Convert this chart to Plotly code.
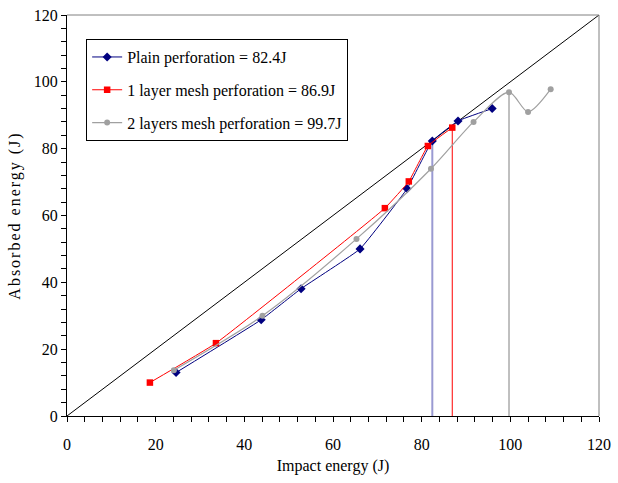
import plotly.graph_objects as go

# Data
plain_x = [24.6, 43.8, 52.8, 66.1, 76.7, 82.4, 88.2, 95.9]
plain_y = [13.0, 28.8, 38.1, 50.0, 68.0, 82.3, 88.3, 92.0]

mesh1_x = [18.7, 33.6, 71.7, 77.1, 81.4, 86.9]
mesh1_y = [10.0, 21.8, 62.2, 70.2, 80.8, 86.3]

mesh2_x = [24.1, 44.1, 65.3, 82.1, 91.7, 99.7, 104.0, 109.1]
mesh2_y = [13.7, 30.0, 53.0, 74.0, 88.0, 96.9, 91.0, 97.8]

perf_plain = 82.4
perf_mesh1 = 86.9
perf_mesh2 = 99.7

diag = [0, 120]

FONT = "Liberation Serif"

fig = go.Figure()

# y = x reference line
fig.add_trace(go.Scatter(x=diag, y=diag, mode="lines", line=dict(color="black", width=1),
                         showlegend=False, hoverinfo="skip"))

# perforation vertical lines
fig.add_trace(go.Scatter(x=[perf_plain, perf_plain], y=[0, plain_y[5]], mode="lines",
                         line=dict(color="#9a9ad2", width=2), showlegend=False))
fig.add_trace(go.Scatter(x=[perf_mesh1, perf_mesh1], y=[0, mesh1_y[5]], mode="lines",
                         line=dict(color="#ff0000", width=1), showlegend=False))
fig.add_trace(go.Scatter(x=[perf_mesh2, perf_mesh2], y=[0, mesh2_y[5]], mode="lines",
                         line=dict(color="#808080", width=1), showlegend=False))

fig.add_trace(go.Scatter(x=plain_x, y=plain_y, mode="lines+markers",
                         name="Plain perforation = 82.4J", legendgroup="a",
                         line=dict(color="#000080", width=1, shape="spline", smoothing=0.3),
                         marker=dict(symbol="diamond", size=7, color="#000080")))
fig.add_trace(go.Scatter(x=mesh1_x, y=mesh1_y, mode="lines+markers",
                         name="1 layer mesh perforation = 86.9J", legendgroup="b",
                         line=dict(color="#ff0000", width=1, shape="spline", smoothing=0.3),
                         marker=dict(symbol="square", size=6.5, color="#ff0000")))
fig.add_trace(go.Scatter(x=mesh2_x, y=mesh2_y, mode="lines+markers",
                         name="2 layers mesh perforation = 99.7J", legendgroup="c",
                         line=dict(color="#a0a0a0", width=1.2, shape="spline", smoothing=0.8),
                         marker=dict(symbol="circle", size=6, color="#a0a0a0")))

axis_common = dict(
    showgrid=False, zeroline=False, showline=True, linecolor="black", linewidth=1,
    ticks="outside", ticklen=5, tickcolor="black", tickwidth=1,
    tickfont=dict(family=FONT, size=16, color="black"),
    minor=dict(ticks="outside", ticklen=5, tickcolor="black", dtick=4, showgrid=False),
    automargin=False,
)

fig.update_xaxes(range=[0, 120], dtick=20, tick0=0, ticklabelstandoff=9, **axis_common,
                 title=dict(text="Impact energy (J)", font=dict(family=FONT, size=16, color="black"),
                            standoff=7))
fig.update_yaxes(range=[0, 120], dtick=20, tick0=0, **axis_common,
                 title=dict(text='<span style="letter-spacing:2px">Absorbed energy (J)</span>',
                            font=dict(family=FONT, size=16, color="black"),
                            standoff=9))

# top and right frame lines (grey)
fig.add_shape(type="line", xref="paper", yref="paper", x0=0, x1=1, y0=1, y1=1,
              line=dict(color="#808080", width=1))
fig.add_shape(type="line", xref="paper", yref="paper", x0=1, x1=1, y0=0, y1=1,
              line=dict(color="#808080", width=1))

fig.update_layout(
    width=618, height=483,
    margin=dict(l=67, r=19, t=15, b=67, autoexpand=False),
    paper_bgcolor="white", plot_bgcolor="white",
    font=dict(family=FONT, size=16, color="black"),
    legend=dict(x=0.036, y=0.94, xanchor="left", yanchor="top",
                bordercolor="black", borderwidth=1, bgcolor="white",
                font=dict(family=FONT, size=16, color="black"),
                tracegroupgap=9, itemwidth=30),
)

fig.write_html("out.html")
